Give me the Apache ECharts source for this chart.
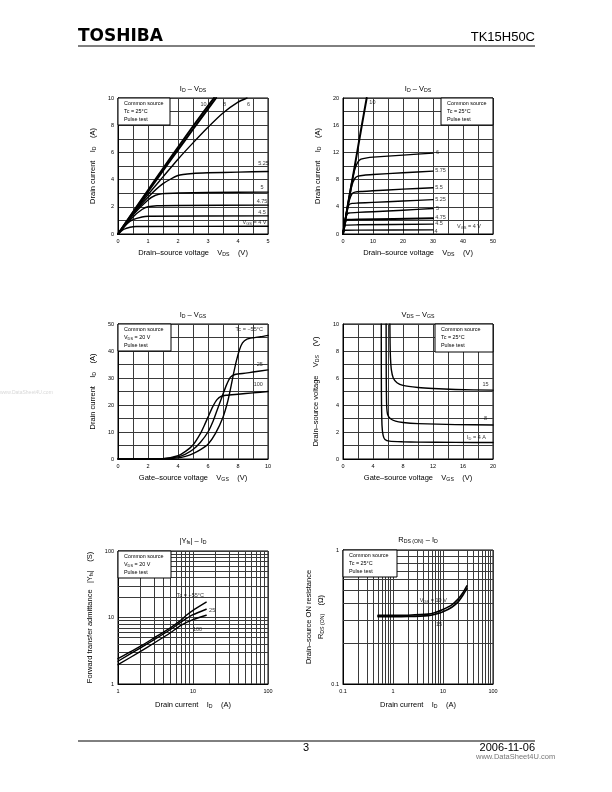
<!DOCTYPE html>
<html><head><meta charset="utf-8">
<script src="https://cdn.jsdelivr.net/npm/echarts@6/dist/echarts.min.js"></script>
<style>html,body{margin:0;padding:0;background:#fff}#c{width:612px;height:792px}</style>
</head><body><div id="c"></div>
<script>
// ---------- Chart 1: ID - VDS (0-5 V) ----------
const c1_vgs10 = [[0,0],[0.5,1.62],[1,3.22],[1.5,4.82],[2,6.38],[2.5,7.92],[3,9.42],[3.2,10]];
const c1_vgs8  = [[0,0],[0.5,1.57],[1,3.12],[1.5,4.66],[2,6.18],[2.5,7.7],[3,9.2],[3.27,10]];
const c1_vgs6  = [[0,0],[0.5,1.5],[1,2.9],[1.5,4.2],[2,5.5],[2.5,6.7],[3,7.85],[3.5,8.9],[4,9.7],[4.3,10]];
const c1_vgs525= [[0,0],[0.5,1.45],[1,2.7],[1.5,3.7],[2,4.3],[2.5,4.45],[3,4.5],[4,4.55],[5,4.6]];
const c1_vgs5  = [[0,0],[0.5,1.4],[1,2.5],[1.25,2.85],[1.5,2.97],[2,3.02],[3,3.05],[5,3.08]];
const c1_vgs475= [[0,0],[0.5,1.25],[0.8,1.8],[1,2.0],[1.3,2.08],[2,2.1],[5,2.12]];
const c1_vgs45 = [[0,0],[0.3,0.75],[0.5,1.05],[0.8,1.25],[1,1.3],[5,1.33]];
const c1_vgs4  = [[0,0],[0.2,0.35],[0.4,0.5],[0.6,0.55],[5,0.57]];
const c1_labels = [[2.85,9.55,'10'],[3.55,9.55,'8'],[4.35,9.55,'6'],[4.85,5.2,'5.25'],[4.8,3.45,'5'],[4.8,2.4,'4.75'],[4.8,1.55,'4.5'],[4.55,0.85,'{i|V}{s|GS}{i| = 4 V}']];

// ---------- Chart 2: ID - VDS (0-50 V) ----------
const c2_vgs10 = [[0,0],[2,5.1],[4,10.2],[6,15.3],[7.9,20]];
const c2_vgs6  = [[0,0],[1,2.9],[2,5.5],[3,7.8],[4,9.6],[5,10.6],[6,11],[8,11.2],[10,11.3],[20,11.6],[30,11.9]];
const c2_vgs575= [[0,0],[1,2.8],[2,5.2],[3,7.2],[4,8.2],[5,8.5],[7,8.65],[10,8.75],[20,9.0],[30,9.25]];
const c2_vgs55 = [[0,0],[1,2.7],[2,4.8],[3,5.9],[4,6.15],[6,6.25],[10,6.35],[20,6.6],[30,6.8]];
const c2_vgs525= [[0,0],[1,2.7],[2,4.3],[3,4.5],[5,4.55],[10,4.65],[20,4.85],[30,5.05]];
const c2_vgs5  = [[0,0],[1,2.5],[1.5,2.97],[2,3.08],[5,3.18],[10,3.28],[20,3.5],[30,3.75]];
const c2_vgs475= [[0,0],[0.5,1.25],[1,2.0],[1.5,2.1],[5,2.15],[30,2.3]];
const c2_vgs45 = [[0,0],[0.5,1.05],[1,1.3],[5,1.35],[30,1.45]];
const c2_vgs4  = [[0,0],[0.3,0.45],[0.6,0.55],[5,0.57],[30,0.6]];
const c2_labels = [[9.8,19.3,'10'],[31.5,12,'6'],[32.5,9.3,'5.75'],[32,6.8,'5.5'],[32.5,5.1,'5.25'],[31.5,3.8,'5'],[32.5,2.5,'4.75'],[32,1.5,'4.5'],[31,0.4,'4'],[42,1.05,'{i|V}{s|GS}{i| = 4 V}']];

// ---------- Chart 3: ID - VGS ----------
const c3_tcm55 = [[0,0],[3,0.05],[4,0.4],[4.5,1],[5,2],[5.5,3.5],[6,5.5],[6.5,9.5],[7,15.5],[7.3,21],[7.5,26],[7.7,31.5],[7.9,36.5],[8.1,40.5],[8.3,43],[8.6,44.4],[9,44.9],[9.5,45.3],[10,45.8]];
const c3_tc25  = [[0,0],[3,0.1],[4,0.8],[4.5,1.8],[5,3.5],[5.5,6.2],[6,10],[6.3,13.5],[6.6,18],[6.9,22.5],[7.2,27],[7.5,30.3],[7.8,31.3],[8.5,31.8],[9,32.2],[10,33]];
const c3_tc100 = [[0,0],[3,0.15],[4,1.2],[4.5,2.8],[5,5.2],[5.5,9.5],[5.8,13],[6,15.5],[6.3,19.2],[6.6,22],[6.9,23.3],[7.2,23.6],[8,24],[9,24.5],[10,25]];
const c3_labels = [[8.75,47.8,'Tc = −55°C'],[9.45,35,'25'],[9.35,27.5,'100']];

// ---------- Chart 4: VDS - VGS ----------
const c4_id15 = [[6.25,10],[6.28,8.5],[6.33,7.5],[6.45,6.6],[6.7,6.0],[7.2,5.65],[8,5.45],[10,5.3],[12,5.22],[15,5.15],[20,5.1]];
const c4_id8  = [[5.75,10],[5.77,6],[5.82,4],[5.95,3.3],[6.3,3.0],[7,2.8],[8,2.7],[10,2.62],[15,2.55],[20,2.52]];
const c4_id4  = [[5.1,10],[5.12,5],[5.2,2.5],[5.35,1.75],[5.6,1.45],[6.2,1.32],[8,1.27],[10,1.25],[15,1.23],[20,1.22]];
const c4_labels = [[19,5.5,'15'],[19,3.0,'8'],[17.8,1.6,'{i|I}{s|D}{i| = 4 A}']];

// ---------- Chart 5: |Yfs| - ID ----------
const c5_tcm55 = [[1,2.4],[2,3.7],[3,4.9],[5,7],[7,9.2],[8,10.6],[10,12.8],[15,17]];
const c5_tc25  = [[1,2.2],[2,3.5],[3,4.6],[5,6.6],[7,8.6],[10,11],[15,13.3]];
const c5_tc100 = [[1,1.95],[2,3.1],[3,4.1],[5,5.9],[7,7.7],[10,9.3],[15,10.8]];
const c5_labels = [[9.2,21.5,'Tc = −55°C'],[18,12.8,'25'],[11.5,6.6,'100']];

// ---------- Chart 6: RDS(ON) - ID ----------
const c6_vgs10 = [[0.5,0.325],[1,0.325],[2,0.326],[5,0.332],[7,0.342],[10,0.36],[15,0.39],[20,0.43],[25,0.48],[30,0.54]];
const c6_vgs15 = [[0.5,0.318],[1,0.318],[2,0.319],[5,0.324],[7,0.332],[10,0.346],[15,0.374],[20,0.41],[25,0.46],[30,0.515]];
const c6_labels = [[6.4,0.42,'{i|V}{s|GS}{i| = 10 V}'],[8.3,0.28,'15']];

// ---------- Axes ticks ----------
const logMinor1to100 = [2,3,4,5,6,7,8,9,20,30,40,50,60,70,80,90];
const logMinor01to100 = [0.2,0.3,0.4,0.5,0.6,0.7,0.8,0.9,2,3,4,5,6,7,8,9,20,30,40,50,60,70,80,90];
const logMinor01to1 = [0.2,0.3,0.4,0.5,0.6,0.7,0.8,0.9];

const FONT = "'Liberation Sans', Arial, sans-serif";
const GRIDC = '#3a3a3a';
const grids = [
  {left:118, top:98, width:150, height:136},
  {left:343, top:98, width:150, height:136},
  {left:118, top:324, width:150, height:135},
  {left:343, top:324, width:150, height:135},
  {left:118, top:551, width:150, height:133},
  {left:343, top:550, width:150, height:134}
].map(g => Object.assign({show:true, borderColor:'#000', borderWidth:1, backgroundColor:'transparent'}, g));

const nameRich = {
  i:{fontSize:7.5, fontFamily:FONT, color:'#000'},
  s:{fontSize:5.2, fontFamily:FONT, color:'#000', padding:[3,0,0,0]}
};
function linAxis(gi, min, max, step, labelStep, name, gap) {
  return {
    type:'value', gridIndex:gi, min:min, max:max, interval:step,
    axisLine:{show:true, lineStyle:{color:'#000', width:1}},
    axisTick:{show:false},
    splitLine:{show:true, lineStyle:{color:GRIDC, width:1}},
    axisLabel:{fontSize:5.5, color:'#000', fontFamily:FONT, margin:4, showMinLabel:true, showMaxLabel:true,
      formatter: v => { const r = v/labelStep; return Math.abs(r-Math.round(r))<1e-6 ? String(+v.toFixed(3)) : ''; }},
    name:name, nameLocation:'middle', nameGap:gap,
    nameTextStyle:{fontSize:7.5, fontFamily:FONT, color:'#000', rich:nameRich}
  };
}
function logAxis(gi, min, max, name, gap) {
  return {
    type:'log', logBase:10, gridIndex:gi, min:min, max:max,
    axisLine:{show:true, lineStyle:{color:'#000', width:1}},
    axisTick:{show:false},
    splitLine:{show:true, lineStyle:{color:GRIDC, width:1}},
    axisLabel:{fontSize:5.5, color:'#000', fontFamily:FONT, margin:4, showMinLabel:true, showMaxLabel:true,
      formatter: v => String(+v.toPrecision(3))},
    name:name, nameLocation:'middle', nameGap:gap,
    nameTextStyle:{fontSize:7.5, fontFamily:FONT, color:'#000', rich:nameRich, lineHeight:12}
  };
}

const xAxes = [
  linAxis(0, 0, 5, 0.5, 1, '{i|Drain–source voltage    V}{s|DS}{i|    (V)}', 15),
  linAxis(1, 0, 50, 5, 10, '{i|Drain–source voltage    V}{s|DS}{i|    (V)}', 15),
  linAxis(2, 0, 10, 1, 2, '{i|Gate–source voltage    V}{s|GS}{i|    (V)}', 15),
  linAxis(3, 0, 20, 2, 4, '{i|Gate–source voltage    V}{s|GS}{i|    (V)}', 15),
  logAxis(4, 1, 100, '{i|Drain current    I}{s|D}{i|    (A)}', 15),
  logAxis(5, 0.1, 100, '{i|Drain current    I}{s|D}{i|    (A)}', 15)
];
const yAxes = [
  linAxis(0, 0, 10, 1, 2, '{i|Drain current    I}{s|D}{i|    (A)}', 21),
  linAxis(1, 0, 20, 2, 4, '{i|Drain current    I}{s|D}{i|    (A)}', 21),
  linAxis(2, 0, 50, 5, 10, '{i|Drain current    I}{s|D}{i|    (A)}', 21),
  linAxis(3, 0, 10, 1, 2, '{i|Drain–source voltage    V}{s|DS}{i|    (V)}', 23),
  logAxis(4, 1, 100, '{i|Forward transfer admittance   |Y}{s|fs}{i||    (S)}', 22),
  logAxis(5, 0.1, 1, '{i|Drain–source ON resistance}\n{i|R}{s|DS (ON)}{i|    (Ω)}', 16)
];

function curve(gi, data, w) {
  return {type:'line', xAxisIndex:gi, yAxisIndex:gi, data:data, showSymbol:false, symbol:'none',
    smooth:0.2, lineStyle:{color:'#000', width:w||1.4, cap:'round', join:'round'}, silent:true, z:5,
    emphasis:{disabled:true}};
}
const labelRich = {
  i:{fontSize:5.5, fontFamily:FONT, color:'#000'},
  s:{fontSize:4, fontFamily:FONT, color:'#000', padding:[2,0,0,0]}
};
function labels(gi, arr) {
  return {type:'scatter', xAxisIndex:gi, yAxisIndex:gi, symbolSize:0, silent:true, z:8,
    data: arr.map(a => ({value:[a[0],a[1]], name:a[2]})),
    label:{show:true, position:'inside', formatter: p => p.name.indexOf('{')>=0 ? p.name : '{i|'+p.name+'}',
      rich:labelRich}};
}
function minorGrid(gi, xs, ys) {
  const d = [];
  xs.forEach(v => d.push({xAxis:v}));
  ys.forEach(v => d.push({yAxis:v}));
  return {type:'line', xAxisIndex:gi, yAxisIndex:gi, data:[], silent:true, z:1,
    markLine:{silent:true, symbol:['none','none'], label:{show:false}, animation:false,
      lineStyle:{color:GRIDC, width:1, type:'solid'}, data:d}};
}

const series = [
  curve(0, c1_vgs10, 2), curve(0, c1_vgs8, 2), curve(0, c1_vgs6), curve(0, c1_vgs525), curve(0, c1_vgs5),
  curve(0, c1_vgs475), curve(0, c1_vgs45), curve(0, c1_vgs4), labels(0, c1_labels),
  curve(1, c2_vgs10, 2), curve(1, c2_vgs6), curve(1, c2_vgs575), curve(1, c2_vgs55), curve(1, c2_vgs525),
  curve(1, c2_vgs5), curve(1, c2_vgs475, 2), curve(1, c2_vgs45), curve(1, c2_vgs4), labels(1, c2_labels),
  curve(2, c3_tcm55), curve(2, c3_tc25), curve(2, c3_tc100), labels(2, c3_labels),
  curve(3, c4_id15), curve(3, c4_id8), curve(3, c4_id4), labels(3, c4_labels),
  minorGrid(4, logMinor1to100, logMinor1to100),
  curve(4, c5_tcm55), curve(4, c5_tc25), curve(4, c5_tc100), labels(4, c5_labels),
  minorGrid(5, logMinor01to100, logMinor01to1),
  curve(5, c6_vgs10, 1.6), curve(5, c6_vgs15, 1.6), labels(5, c6_labels)
];

const titleRich = {
  i:{fontSize:7.5, fontFamily:FONT, fill:'#000'},
  s:{fontSize:5.2, fontFamily:FONT, fill:'#000', padding:[3,0,0,0]}
};
function title(x, y, text) {
  return {type:'text', x:x, y:y, z:20, silent:true,
    style:{text:text, rich:titleRich, align:'center', verticalAlign:'middle', fontSize:7.5, fontFamily:FONT, fill:'#000'}};
}
const boxRich = {
  i:{fontSize:5.4, fontFamily:FONT, fill:'#000'},
  s:{fontSize:3.9, fontFamily:FONT, fill:'#000', padding:[2,0,0,0]}
};
function box(x, y, w, h, lines) {
  const ch = [{type:'rect', z:30, shape:{x:0, y:0, width:w, height:h}, style:{fill:'#fff', stroke:'#000', lineWidth:1}}];
  lines.forEach((t, k) => ch.push({type:'text', z:31, x:6, y:6 + k*7.6,
    style:{text:t, rich:boxRich, fontSize:5.4, fontFamily:FONT, fill:'#000', verticalAlign:'middle'}}));
  return {type:'group', x:x, y:y, z:30, silent:true, children:ch};
}
const std = ['{i|Common source}', '{i|Tc = 25°C}', '{i|Pulse test}'];
const vds = ['{i|Common source}', '{i|V}{s|DS}{i| = 20 V}', '{i|Pulse test}'];

const graphics = [
  {type:'text', x:78, y:37, z:20, style:{text:'TOSHIBA', fontSize:17, fontWeight:'bold', fontFamily:"'DejaVu Sans', sans-serif", fill:'#000', verticalAlign:'middle'}},
  {type:'text', x:535, y:37, z:20, style:{text:'TK15H50C', fontSize:13, fontFamily:FONT, fill:'#000', align:'right', verticalAlign:'middle'}},
  {type:'line', z:20, shape:{x1:78, y1:46, x2:535, y2:46}, style:{stroke:'#000', lineWidth:1}},
  {type:'line', z:20, shape:{x1:78, y1:741, x2:535, y2:741}, style:{stroke:'#000', lineWidth:1}},
  {type:'text', x:306, y:748, z:20, style:{text:'3', fontSize:11, fontFamily:FONT, fill:'#000', align:'center', verticalAlign:'middle'}},
  {type:'text', x:535, y:748, z:20, style:{text:'2006-11-06', fontSize:11, fontFamily:FONT, fill:'#000', align:'right', verticalAlign:'middle'}},
  {type:'text', x:476, y:757, z:20, style:{text:'www.DataSheet4U.com', fontSize:7.5, fontFamily:FONT, fill:'#777', verticalAlign:'middle'}},
  {type:'text', x:0, y:393, z:20, style:{text:'www.DataSheet4U.com', fontSize:5, fontFamily:FONT, fill:'#d8d8d8', verticalAlign:'middle'}},
  title(193, 89, '{i|I}{s|D}{i| – V}{s|DS}'),
  title(418, 89, '{i|I}{s|D}{i| – V}{s|DS}'),
  title(193, 315, '{i|I}{s|D}{i| – V}{s|GS}'),
  title(418, 315, '{i|V}{s|DS}{i| – V}{s|GS}'),
  title(193, 541, '{i||Y}{s|fs}{i|| – I}{s|D}'),
  title(418, 540, '{i|R}{s|DS (ON)}{i| – I}{s|D}'),
  box(118, 98, 52, 27, std),
  box(441, 98, 52, 27, std),
  box(118, 324, 53, 27, vds),
  box(435, 324, 58, 28, std),
  box(118, 551, 53, 27, vds),
  box(343, 550, 54, 27, std)
];

const chart = echarts.init(document.getElementById('c'), null, {renderer:'canvas'});
chart.setOption({
  backgroundColor:'#fff',
  animation:false,
  grid:grids,
  xAxis:xAxes,
  yAxis:yAxes,
  series:series,
  graphic:graphics
});
</script>
</body></html>
